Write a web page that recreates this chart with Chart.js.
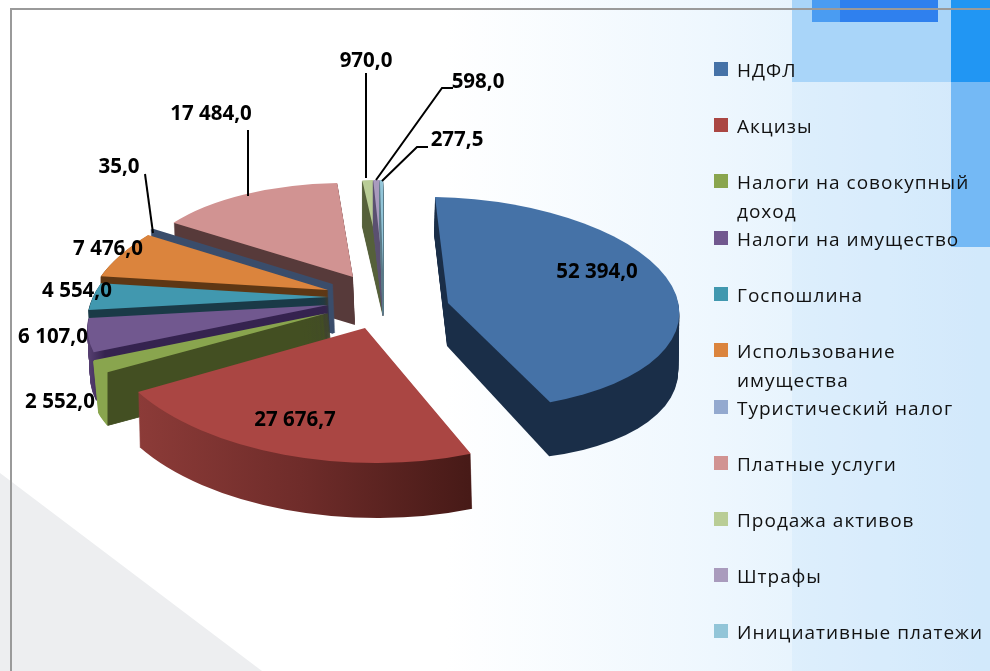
<!DOCTYPE html>
<html>
<head>
<meta charset="utf-8">
<script src="https://cdn.jsdelivr.net/npm/chart.js@4"></script>
<style>
html, body { margin: 0; padding: 0; }
#page { position: relative; width: 990px; height: 671px; overflow: hidden;
  background: linear-gradient(90deg, #ffffff 0%, #ffffff 45%, #eef7fe 72%, #d8ecfb 100%); }
#page div.b { position: absolute; }
#chartBox { position: absolute; left: 0; top: 0; width: 990px; height: 671px; }
#legend { position: absolute; left: 714px; top: 0; font-family: "Open Sans", sans-serif; font-size: 19px; color: #111; }
#legend .it { position: absolute; left: 0; width: 274px; line-height: 29px; padding-left: 23px; box-sizing: border-box; letter-spacing: 1px; }
#legend .sw { position: absolute; left: 0; top: 6px; width: 14px; height: 14px; }
</style>
</head>
<body>
<div id="page">
  <div class="b" style="left:792px;top:82px;width:198px;height:589px;background:rgba(190,225,250,.25)"></div>
  <div class="b" style="left:792px;top:0;width:198px;height:82px;background:#a9d5f9"></div>
  <div class="b" style="left:812px;top:0;width:126px;height:22px;background:#4a9cf2"></div>
  <div class="b" style="left:840px;top:0;width:98px;height:22px;background:#2f80ee"></div>
  <div class="b" style="left:951px;top:0;width:39px;height:82px;background:#2196f3"></div>
  <div class="b" style="left:951px;top:82px;width:39px;height:165px;background:#74b9f5"></div>
  <div class="b" style="left:0;top:473px;width:262px;height:198px;background:#edeef0;clip-path:polygon(0 0,100% 100%,0 100%)"></div>
  <div class="b" style="left:10px;top:8px;width:980px;height:2px;background:#9a9a9a"></div>
  <div class="b" style="left:10px;top:8px;width:2px;height:663px;background:#9a9a9a"></div>
  <div id="chartBox"><canvas id="pie"></canvas></div>
  <div id="legend"></div>
</div>
<script>
var categories = ["НДФЛ", "Акцизы", "Налоги на совокупный доход", "Налоги на имущество", "Госпошлина",
  "Использование имущества", "Туристический налог", "Платные услуги", "Продажа активов", "Штрафы", "Инициативные платежи"];
var values = [52394.0, 27676.7, 2552.0, 6107.0, 4554.0, 7476.0, 35.0, 17484.0, 970.0, 598.0, 277.5];
var colors = ["#4572a7", "#aa4643", "#89a54e", "#71588f", "#4198af", "#db843d", "#93a9cf", "#d19392", "#b9cd96", "#a99bbd", "#92c5d8"];

// каждый сектор: a,b,c,d,tx,ty - куда переходит единичный круг
var sliceMatrix = [
  [231, 13, 4, 106, 448, 303],
  [264, 3, 4, 135, 365, 328],
  [237, -40, -5, 112, 328, 313],
  [237, -40, -5, 112, 328, 305],
  [237, -40, -5, 112, 328, 297],
  [237, -40, -5, 112, 328, 290],
  [237, -40, -5, 112, 332, 285],
  [215, -5, 5, 94, 353, 277],
  [215, 0, 0, 90, 383, 270],
  [215, 0, 0, 90, 383, 270],
  [215, 0, 0, 90, 383, 270]
];
// объём: dx, dy, dc, dd
var sliceDepth = [[-1, 43, 14, 6], [1.5, 55, 0, 0], [5, 52, 0, 0], [3, 48, 0, 0], [2, 40, 0, 0], [0, 36, 0, 0],
  [2, 48, 0, 0], [2, 48, 0, 0], [0, 46, 0, 0], [0, 46, 0, 0], [0, 46, 0, 0]];
// стенка: [x, цвет] вдоль экрана
var sliceWall = [
  [[430, "#1a2e48"], [690, "#1a2e48"]],
  [[138, "#8c3b38"], [300, "#6f2c2a"], [470, "#471a17"]],
  [[94, "#89a54e"], [107, "#89a54e"], [108, "#434f22"], [335, "#434f22"]],
  [[85, "#5d4578"], [105, "#35234f"], [335, "#35234f"]],
  [[85, "#1a3a47"], [335, "#1a3a47"]],
  [[100, "#5e3714"], [335, "#5e3714"]],
  [[150, "#3a4d6b"], [335, "#3a4d6b"]],
  [[170, "#573a3a"], [360, "#573a3a"]],
  [[360, "#55603a"], [385, "#55603a"]],
  [[360, "#5a5070"], [385, "#5a5070"]],
  [[360, "#5a7a88"], [385, "#5a7a88"]]
];
// толщина обводки стенки, чтобы узкие клинья не давали полос
var wallBorder = [0, 0, 2, 2, 2, 2, 6, 0, 1, 1, 1];
var drawOrder = [8, 9, 10, 7, 6, 5, 4, 3, 2, 1, 0];
var thinSlice = 6; // 35,0 - почти нулевой сектор, виден только как стенка

// подписи: центр текста и выноска
var labelPos = [[597, 272], [295, 420], [60, 402], [53, 337], [77, 291], [108, 249], [119, 167], [211, 114], [366, 61], [478, 82], [457, 140]];
var leaders = {
  6: [[145, 174], [153, 233]],
  7: [[248, 130], [248, 196]],
  8: [[366, 73], [366, 178]],
  9: [[453, 88], [442, 88], [376, 180]],
  10: [[428, 147], [417, 147], [382, 181]]
};

function fmt(v) {
  var s = v.toFixed(1).split(".");
  return s[0].replace(/\B(?=(\d{3})+$)/g, " ") + "," + s[1];
}

function drawLayer(ctx, el, m, fill, border) {
  var R = el.outerRadius;
  ctx.save();
  ctx.translate(m[4], m[5]);
  ctx.transform(m[0] / R, m[2] / R, m[1] / R, m[3] / R, 0, 0);
  ctx.translate(-el.x, -el.y);
  var old = el.options;
  var f = fill;
  if (Array.isArray(fill)) {
    // градиент по экранному x
    var k = R / (m[0] * m[0] + m[1] * m[1]);
    var x0 = fill[0][0], x1 = fill[fill.length - 1][0];
    var t0 = (x0 - m[4]) * k, t1 = (x1 - m[4]) * k;
    f = ctx.createLinearGradient(el.x + t0 * m[0], el.y + t0 * m[1], el.x + t1 * m[0], el.y + t1 * m[1]);
    fill.forEach(function (s) { f.addColorStop((s[0] - x0) / (x1 - x0), s[1]); });
  }
  el.options = Object.assign({}, old, { backgroundColor: f, borderWidth: border || 0, borderColor: f, borderAlign: "center" });
  el.draw(ctx);
  el.options = old;
  ctx.restore();
}

var pie3d = {
  id: "pie3d",
  beforeDatasetsDraw: function (chart) {
    var ctx = chart.ctx, arcs = chart.getDatasetMeta(0).data;
    drawOrder.forEach(function (i) {
      var m = sliceMatrix[i], dp = sliceDepth[i], n = Math.ceil(dp[1]);
      for (var s = n; s > 0; s--) {
        var t = s / n;
        drawLayer(ctx, arcs[i], [m[0], m[1], m[2] + dp[2] * t, m[3] + dp[3] * t, m[4] + dp[0] * t, m[5] + dp[1] * t],
          sliceWall[i], wallBorder[i]);
      }
      if (i !== thinSlice) drawLayer(ctx, arcs[i], m, colors[i]);
      else drawLayer(ctx, arcs[i], m, sliceWall[i], wallBorder[i]);
    });
    return false;
  },
  afterDraw: function (chart) {
    var ctx = chart.ctx;
    ctx.save();
    ctx.strokeStyle = "#000";
    ctx.lineWidth = 2;
    Object.keys(leaders).forEach(function (k) {
      ctx.beginPath();
      leaders[k].forEach(function (p, j) { j ? ctx.lineTo(p[0], p[1]) : ctx.moveTo(p[0], p[1]); });
      ctx.stroke();
    });
    ctx.fillStyle = "#000";
    ctx.font = "bold 20.5px 'Open Sans'";
    ctx.textAlign = "center";
    ctx.textBaseline = "middle";
    values.forEach(function (v, i) { ctx.fillText(fmt(v), labelPos[i][0], labelPos[i][1]); });
    ctx.restore();
  }
};

new Chart(document.getElementById("pie"), {
  type: "pie",
  data: { labels: categories, datasets: [{ data: values, backgroundColor: colors, borderWidth: 0 }] },
  options: {
    responsive: true,
    maintainAspectRatio: false,
    animation: false,
    plugins: { legend: { display: false }, tooltip: { enabled: false } }
  },
  plugins: [pie3d]
});

// легенда
var legendTop = [56, 112, 168, 225, 281, 337, 394, 450, 506, 562, 618];
var legendEl = document.getElementById("legend");
categories.forEach(function (c, i) {
  var it = document.createElement("div");
  it.className = "it";
  it.style.top = legendTop[i] + "px";
  it.innerHTML = '<span class="sw" style="background:' + colors[i] + '"></span>' + c;
  legendEl.appendChild(it);
});
</script>
</body>
</html>
